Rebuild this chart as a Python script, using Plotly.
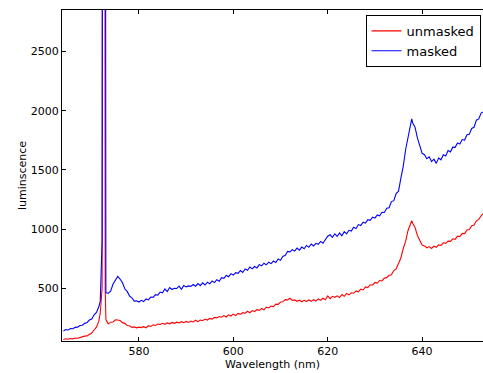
import plotly.graph_objects as go

wavelength = [
    564.0, 564.5, 565.0, 565.5, 566.0, 566.5, 567.0, 567.5, 568.0, 568.5,
    569.0, 569.5, 570.0, 570.5, 571.0, 571.5, 571.8, 572.2, 572.55, 572.85,
    573.0, 573.5, 574.0, 574.5, 575.0, 575.5, 576.0, 576.5, 577.0, 577.5,
    578.0, 578.5, 579.0, 579.5, 580.0, 580.5, 581.0, 581.5, 582.0, 582.5,
    583.0, 583.5, 584.0, 584.5, 585.0, 585.5, 586.0, 586.5, 587.0, 587.5,
    588.0, 588.5, 589.0, 589.5, 590.0, 590.5, 591.0, 591.5, 592.0, 592.5,
    593.0, 593.5, 594.0, 594.5, 595.0, 595.5, 596.0, 596.5, 597.0, 597.5,
    598.0, 598.5, 599.0, 599.5, 600.0, 600.5, 601.0, 601.5, 602.0, 602.5,
    603.0, 603.5, 604.0, 604.5, 605.0, 605.5, 606.0, 606.5, 607.0, 607.5,
    608.0, 608.5, 609.0, 609.5, 610.0, 610.5, 611.0, 611.5, 612.0, 612.5,
    613.0, 613.5, 614.0, 614.5, 615.0, 615.5, 616.0, 616.5, 617.0, 617.5,
    618.0, 618.5, 619.0, 619.5, 620.0, 620.5, 621.0, 621.5, 622.0, 622.5,
    623.0, 623.5, 624.0, 624.5, 625.0, 625.5, 626.0, 626.5, 627.0, 627.5,
    628.0, 628.5, 629.0, 629.5, 630.0, 630.5, 631.0, 631.5, 632.0, 632.5,
    633.0, 633.5, 634.0, 634.5, 635.0, 635.5, 636.0, 636.5, 637.0, 637.5,
    637.8, 638.0, 638.5, 639.0, 639.5, 640.0, 640.5, 641.0, 641.5, 642.0,
    642.5, 643.0, 643.5, 644.0, 644.5, 645.0, 645.5, 646.0, 646.5, 647.0,
    647.5, 648.0, 648.5, 649.0, 649.5, 650.0, 650.5, 651.0, 651.5, 652.0,
    652.5, 653.0,
]

masked = [
    140, 152, 148, 160, 158, 170, 172, 186, 188, 204,
    210, 232, 240, 276, 296, 344, 390, 900, 20000, 700,
    462, 458, 476, 534, 566, 600, 578, 548, 496, 474,
    436, 420, 392, 394, 384, 398, 388, 410, 402, 426,
    424, 446, 442, 468, 462, 494, 472, 506, 490, 500,
    498, 518, 492, 524, 512, 520, 516, 532, 518, 540,
    522, 546, 528, 552, 538, 562, 548, 572, 560, 590,
    584, 608, 598, 624, 612, 632, 626, 650, 634, 664,
    652, 680, 664, 684, 672, 700, 690, 712, 698, 720,
    708, 730, 718, 748, 736, 770, 776, 812, 808, 826,
    814, 840, 822, 848, 834, 862, 846, 874, 858, 880,
    872, 896, 880, 910, 940, 952, 930, 960, 938, 968,
    944, 978, 960, 990, 984, 1016, 1004, 1038, 1030, 1058,
    1050, 1080, 1074, 1100, 1092, 1120, 1112, 1142, 1140, 1176,
    1180, 1232, 1240, 1300, 1320, 1430, 1530, 1670, 1780, 1890,
    1930, 1896, 1860, 1770, 1712, 1640, 1628, 1594, 1610, 1570,
    1590, 1555, 1600, 1585, 1628, 1618, 1664, 1652, 1692, 1690,
    1728, 1718, 1756, 1752, 1796, 1800, 1850, 1860, 1920, 1930,
    1980, 1990,
]

unmasked = [
    68, 74, 70, 76, 73, 80, 78, 86, 88, 96,
    98, 112, 122, 148, 172, 222, 290, 500, 18000, 500,
    236, 200, 214, 216, 234, 232, 228, 210, 204, 186,
    184, 170, 174, 166, 172, 168, 176, 166, 184, 178,
    192, 186, 198, 194, 204, 196, 208, 200, 212, 204,
    214, 208, 218, 210, 220, 212, 224, 216, 230, 218,
    232, 226, 240, 232, 246, 240, 254, 250, 262, 256,
    270, 258, 276, 266, 282, 270, 288, 280, 294, 290,
    306, 294, 312, 304, 320, 314, 330, 318, 340, 334,
    350, 346, 366, 364, 384, 386, 404, 402, 416, 398,
    402, 390, 400, 386, 398, 388, 402, 390, 404, 392,
    410, 398, 416, 404, 436, 412, 432, 424, 436, 422,
    448, 432, 456, 444, 462, 458, 478, 470, 492, 486,
    512, 506, 530, 526, 550, 544, 566, 562, 586, 590,
    610, 614, 650, 664, 706, 756, 836, 896, 986, 1036,
    1070, 1050, 1014, 946, 904, 866, 858, 842, 852, 836,
    856, 846, 866, 862, 884, 880, 898, 896, 918, 914,
    940, 936, 964, 962, 992, 996, 1028, 1034, 1070, 1082,
    1112, 1130,
]

series_names = ["unmasked", "masked"]
series_colors = ["#ff0000", "#0000ff"]
x_ticks = [580, 600, 620, 640]
y_ticks = [500, 1000, 1500, 2000, 2500]

fig = go.Figure()
fig.add_trace(go.Scatter(x=wavelength, y=unmasked, mode="lines", name=series_names[0],
                         line=dict(color=series_colors[0], width=1.1)))
fig.add_trace(go.Scatter(x=wavelength, y=masked, mode="lines", name=series_names[1],
                         line=dict(color=series_colors[1], width=1.1)))

font = "DejaVu Sans"
fig.update_layout(
    width=483, height=373,
    margin=dict(l=62, r=0, t=10, b=32, autoexpand=False),
    paper_bgcolor="white", plot_bgcolor="white",
    font=dict(family=font, size=11, color="black"),
    showlegend=True,
    legend=dict(x=0.721, y=0.985, xanchor="left", yanchor="top",
                bgcolor="white", bordercolor="black", borderwidth=1,
                font=dict(family=font, size=13, color="black"),
                tracegroupgap=0),
    xaxis=dict(range=[563.7, 652.9], tickvals=x_ticks, ticks="inside", ticklen=4,
               tickcolor="black", showline=True, linecolor="black", linewidth=1,
               mirror="ticks", showgrid=False, zeroline=False, automargin=False,
               title=dict(text="Wavelength (nm)", standoff=2, font=dict(size=11))),
    yaxis=dict(range=[55, 2850], tickvals=y_ticks, ticks="inside", ticklen=4,
               tickcolor="black", showline=True, linecolor="black", linewidth=1,
               mirror=False, showgrid=False, zeroline=False, automargin=False,
               title=dict(text="luminscence", standoff=1, font=dict(size=11))),
)

fig.write_html(
    "out.html",
    config={"displayModeBar": False},
    post_script="document.body.style.margin='0';document.body.style.overflow='hidden';",
)
